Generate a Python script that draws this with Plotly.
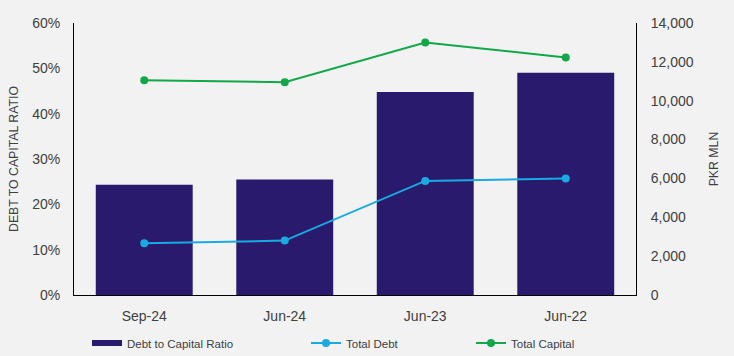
import plotly.graph_objects as go

categories = ["Sep-24", "Jun-24", "Jun-23", "Jun-22"]
debt_to_capital_ratio = [0.243, 0.255, 0.448, 0.490]
total_debt = [2660, 2800, 5870, 6000]
total_capital = [11050, 10950, 13000, 12230]

left_ticks = [0, 0.1, 0.2, 0.3, 0.4, 0.5, 0.6]
right_ticks = [0, 2000, 4000, 6000, 8000, 10000, 12000, 14000]

FONT = "Liberation Sans, Arial, sans-serif"
TXT = "#404040"
BAR_C = "#2A1A6E"

fig = go.Figure()
fig.add_trace(go.Bar(
    x=categories, y=debt_to_capital_ratio, name="Debt to Capital Ratio",
    marker=dict(color=BAR_C, line=dict(width=0)), yaxis="y", showlegend=False,
))
# legend-only entry drawn as a wide flat swatch
fig.add_trace(go.Scatter(
    x=[None], y=[None], name="Debt to Capital Ratio", mode="lines",
    line=dict(color=BAR_C, width=6), yaxis="y", legend="legend",
))
fig.add_trace(go.Scatter(
    x=categories, y=total_debt, name="Total Debt", mode="lines+markers",
    line=dict(color="#1AAAE2", width=2), marker=dict(size=8, color="#1AAAE2"),
    yaxis="y2", legend="legend2",
))
fig.add_trace(go.Scatter(
    x=categories, y=total_capital, name="Total Capital", mode="lines+markers",
    line=dict(color="#12A84A", width=2), marker=dict(size=8, color="#12A84A"),
    yaxis="y2", legend="legend3",
))

leg_common = dict(orientation="h", yref="container", yanchor="middle", y=(356 - 343) / 356,
                  xref="container", xanchor="left",
                  font=dict(family=FONT, size=11.5, color=TXT), bgcolor="rgba(0,0,0,0)")

fig.update_layout(
    width=734, height=356,
    margin=dict(l=74, r=98, t=23, b=61, autoexpand=False),
    paper_bgcolor="#F2F2F2", plot_bgcolor="#F2F2F2",
    font=dict(family=FONT, size=14, color=TXT),
    bargap=0.31,
    showlegend=True,
    legend=dict(x=87 / 734, **leg_common),
    legend2=dict(x=306 / 734, **leg_common),
    legend3=dict(x=471 / 734, **leg_common),
    xaxis=dict(showline=True, linecolor="#000000", linewidth=1, ticks="",
               showgrid=False, automargin=False, ticklabelstandoff=8,
               tickfont=dict(size=14, color=TXT)),
    yaxis=dict(range=[0, 0.6], tickvals=left_ticks, tickformat=".0%",
               showline=True, linecolor="#000000", linewidth=1, showgrid=False,
               zeroline=False, ticks="", automargin=False, ticklabelstandoff=10,
               title=dict(text="DEBT TO CAPITAL RATIO", font=dict(size=12.3, color=TXT), standoff=10),
               tickfont=dict(size=14, color=TXT)),
    yaxis2=dict(range=[0, 14000], tickvals=right_ticks, tickformat=",",
                overlaying="y", side="right", showline=True, linecolor="#000000",
                linewidth=1, showgrid=False, zeroline=False, ticks="", automargin=False,
                ticklabelstandoff=11,
                title=dict(text="PKR MLN", font=dict(size=12.3, color=TXT), standoff=16),
                tickfont=dict(size=14, color=TXT)),
)

fig.write_html(
    "out.html",
    config={"displayModeBar": False},
    post_script="document.body.style.margin='0';document.body.style.padding='0';document.body.style.background='#F2F2F2';",
)
